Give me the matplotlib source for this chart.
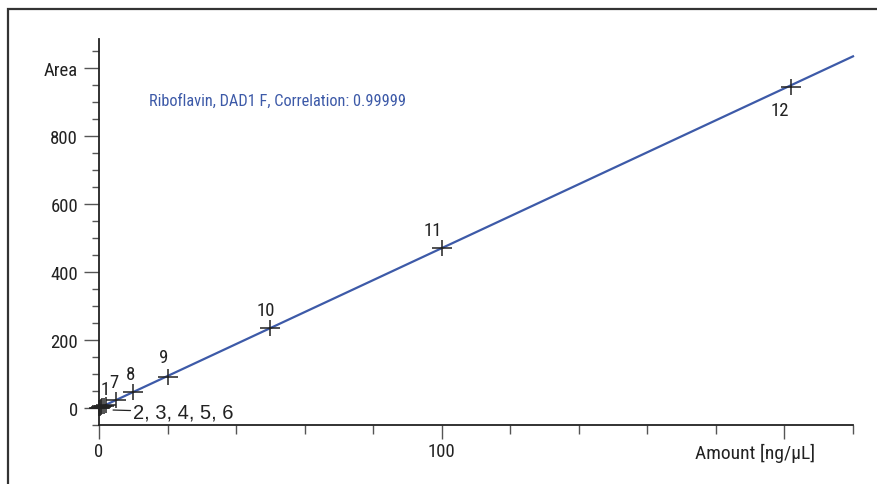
import matplotlib
matplotlib.use('Agg')
import matplotlib.pyplot as plt
import matplotlib.patches as mpatches
import matplotlib.transforms as mtrans
from matplotlib import font_manager
from matplotlib.path import Path

# calibration levels (amount ng/uL) and peak areas
amounts = [1.5, 0.05, 0.5, 1.0, 2.0, 0.2, 5, 10, 20, 50, 100, 202]
areas   = [7.0, 0.2, 2.3, 4.7, 9.4, 0.9, 24, 48, 92, 234, 470, 945]
level_ids = ['1', '2', '3', '4', '5', '6', '7', '8', '9', '10', '11', '12']

fit_x = [0, 220]
fit_y = [0, 1034]

x_major = [0, 100, 200]
x_major_labels = ['0', '100', '']
y_major = [0, 200, 400, 600, 800, 1000]
y_major_labels = ['0', '200', '400', '600', '800', 'Area']

TITLE = 'Riboflavin, DAD1 F, Correlation: 0.99999'
XLABEL = 'Amount [ng/\u00b5L]'

BLUE = '#3d5aa8'
INK = '#222222'

installed = {f.name for f in font_manager.fontManager.ttflist}
NARROW = [f for f in ('Roboto Condensed', 'Liberation Sans Narrow', 'Roboto')
          if f in installed] + ['DejaVu Sans']

# flat cross: wider than tall, like the data-system plot
CROSS = Path([(-1, 0), (1, 0), (0, -0.75), (0, 0.75)],
             [Path.MOVETO, Path.LINETO, Path.MOVETO, Path.LINETO])

fig = plt.figure(figsize=(8.78, 4.85), dpi=100)
ax = fig.add_axes([99 / 878, 59 / 485, 754 / 878, 386 / 485])

# outer frame (clipped at right/bottom)
fig.patches.append(mpatches.Rectangle((8 / 878, -0.1), 1.2, (475 / 485) + 0.1,
                                      transform=fig.transFigure, fill=False,
                                      edgecolor='#333333', linewidth=1.6))

ax.plot(fit_x, fit_y, color=BLUE, linewidth=1.6, zorder=2, clip_on=False)
ax.plot(amounts, areas, linestyle='none', marker=CROSS, markersize=15,
        markeredgewidth=1.1, color=INK, zorder=3, clip_on=False)

# level labels, offset in points from their calibration point
label_offsets = {'1': (0.5, 12), '7': (-1.5, 12.5), '8': (-2, 13), '9': (-3, 14),
                 '10': (-3.5, 13), '11': (-6.5, 13), '12': (-8.5, -17)}
for i, lid in enumerate(level_ids):
    if lid not in label_offsets:
        continue
    ax.annotate(lid, (amounts[i], areas[i]), xytext=label_offsets[lid],
                textcoords='offset points', fontsize=13.5, family=NARROW,
                color=INK, ha='center', va='center')
ax.annotate('2, 3, 4, 5, 6', xy=(4.1, -6), xytext=(10, -12),
            fontsize=14.5, family=['Liberation Sans', 'DejaVu Sans'],
            color=INK, va='center', ha='left',
            arrowprops=dict(arrowstyle='-', color=INK, linewidth=0.9,
                            shrinkA=0, shrinkB=0))

ax.text(14.6, 905, TITLE, color=BLUE, fontsize=11.8, family=NARROW,
        ha='left', va='center')

ax.set_xlim(0, 220)
ax.set_ylim(-50, 1085)
ax.set_xticks(x_major)
ax.set_xticklabels(x_major_labels)
ax.set_xticks(range(0, 221, 20), minor=True)
ax.set_yticks(y_major)
ax.set_yticklabels(y_major_labels)
ax.set_yticks(range(-50, 1051, 50), minor=True)

for lbl in ax.get_xticklabels() + ax.get_yticklabels():
    lbl.set_family(NARROW)
    lbl.set_fontsize(13.5)
    lbl.set_color(INK)

ax.tick_params(axis='x', which='major', length=10, width=1.0,
               color='#555555', pad=2)
ax.tick_params(axis='x', which='minor', length=6.5, width=1.0,
               color='#555555')
ax.tick_params(axis='y', which='major', length=11, width=1.0,
               color='#555555', pad=4)
ax.tick_params(axis='y', which='minor', length=5, width=1.0,
               color='#555555')

trans = mtrans.blended_transform_factory(ax.transData, ax.transAxes)
ax.text(209, -0.07, XLABEL, transform=trans, fontsize=14, family=NARROW,
        color=INK, ha='right', va='center')

for side in ('top', 'right'):
    ax.spines[side].set_visible(False)
for side in ('left', 'bottom'):
    ax.spines[side].set_linewidth(1.3)
    ax.spines[side].set_color(INK)
ax.patch.set_alpha(0)

fig.savefig('out.png', dpi=100)
